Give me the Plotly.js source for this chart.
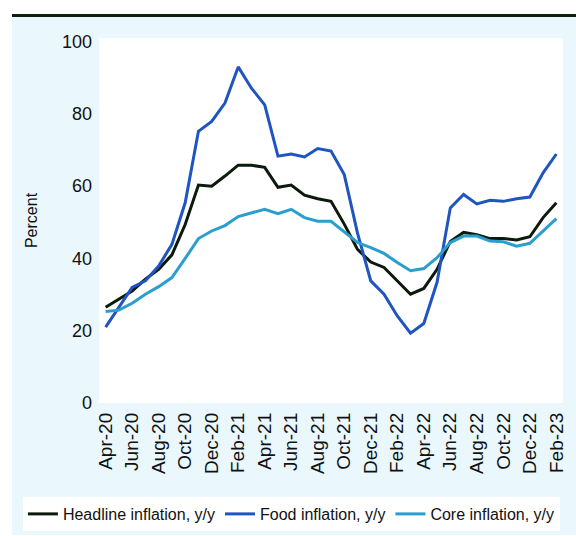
<!DOCTYPE html>
<html>
<head>
<meta charset="utf-8">
<script src="https://cdn.plot.ly/plotly-3.0.1.min.js"></script>
<style>
  html, body { margin: 0; padding: 0; background: #ffffff; width: 576px; height: 536px; overflow: hidden; }
  #frame { position: absolute; left: 12px; top: 14px; width: 564px; height: 518px; border-top: 3px solid #0d1f0d; background: #eaf8fe; }
  #chart { position: absolute; left: 0; top: 0; width: 564px; height: 515px; }
</style>
</head>
<body>
<div id="frame"><div id="chart"></div></div>
<script>
const months = ["Apr-20","May-20","Jun-20","Jul-20","Aug-20","Sep-20","Oct-20","Nov-20","Dec-20",
  "Jan-21","Feb-21","Mar-21","Apr-21","May-21","Jun-21","Jul-21","Aug-21","Sep-21","Oct-21","Nov-21","Dec-21",
  "Jan-22","Feb-22","Mar-22","Apr-22","May-22","Jun-22","Jul-22","Aug-22","Sep-22","Oct-22","Nov-22","Dec-22",
  "Jan-23","Feb-23"];

const headline = [26.5, 28.7, 31, 34.3, 37, 41, 49.4, 60.3, 60, 62.8, 65.8, 65.8, 65.2, 59.7, 60.3, 57.5, 56.5, 55.8,
  49.5, 42.5, 39, 37.5, 33.8, 30.1, 31.7, 37, 44.7, 47.2, 46.6, 45.5, 45.5, 45.1, 46, 51.3, 55.4];

const food = [21, 26.5, 32, 33.8, 37.9, 43.9, 55.4, 75.2, 77.9, 83, 93, 87.1, 82.5, 68.3, 68.9, 68.1, 70.4, 69.7,
  63.2, 47, 33.8, 30.1, 24.1, 19.3, 22, 33.4, 54, 57.7, 55.1, 56.1, 55.8, 56.5, 57, 63.7, 68.9];

const core = [25.3, 25.7, 27.6, 30.1, 32.2, 34.7, 40, 45.5, 47.6, 49.1, 51.6, 52.7, 53.6, 52.4, 53.6, 51.3, 50.3, 50.3,
  47.3, 44.4, 43, 41.4, 38.9, 36.6, 37.2, 40.2, 44.4, 46.2, 46.2, 44.8, 44.6, 43.4, 44.2, 47.6, 51];

const tickLabels = months.filter((m, i) => i % 2 === 0);
const yTicks = [0, 20, 40, 60, 80, 100];

const font = "Liberation Sans, Arial, sans-serif";

const traces = [
  { x: months, y: headline, name: "Headline inflation, y/y", type: "scatter", mode: "lines",
    line: { color: "#0b1a0b", width: 3 } },
  { x: months, y: food, name: "Food inflation, y/y", type: "scatter", mode: "lines",
    line: { color: "#1f55c0", width: 3 } },
  { x: months, y: core, name: "Core inflation, y/y", type: "scatter", mode: "lines",
    line: { color: "#2a9fcf", width: 3 } }
];

const layout = {
  width: 564, height: 515,
  margin: { l: 87, r: 13, t: 21, b: 129, autoexpand: false },
  paper_bgcolor: "#eaf8fe",
  plot_bgcolor: "#ffffff",
  font: { family: font, color: "#111111", size: 16 },
  showlegend: true,
  xaxis: {
    type: "category",
    range: [-0.5, 34.5],
    tickmode: "array",
    tickvals: tickLabels,
    ticktext: tickLabels,
    tickangle: -90,
    tickfont: { family: font, size: 19, color: "#111111" },
    ticklabelstandoff: 5,
    showgrid: false, zeroline: false, showline: false, ticks: "",
    automargin: false,
    fixedrange: true
  },
  yaxis: {
    range: [0, 101],
    tickmode: "array",
    tickvals: yTicks,
    tickfont: { family: font, size: 18, color: "#111111" },
    ticklabelstandoff: 6,
    showgrid: false, zeroline: false, showline: false, ticks: "",
    title: { text: "Percent", font: { family: font, size: 16, color: "#111111" }, standoff: 20 },
    automargin: false,
    fixedrange: true
  },
  legend: {
    orientation: "h",
    x: -0.164, xanchor: "left",
    y: -0.2575, yanchor: "top",
    bgcolor: "#ffffff",
    font: { family: font, size: 16, color: "#111111" },
    itemwidth: 30,
    tracegroupgap: 0
  }
};

Plotly.newPlot("chart", traces, layout, { displayModeBar: false, staticPlot: true });
</script>
</body>
</html>
